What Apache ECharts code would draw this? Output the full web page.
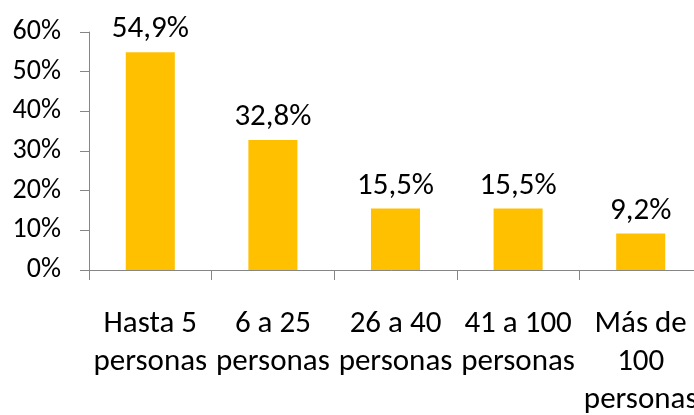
<!DOCTYPE html>
<html>
<head>
<meta charset="utf-8">
<script src="https://cdn.jsdelivr.net/npm/echarts@6/dist/echarts.min.js"></script>
<style>
    html, body { margin: 0; padding: 0; background: #fff; }
    #chart { width: 694px; height: 415px; }
</style>
</head>
<body>
<div id="chart"></div>
<script>
// datos del gráfico
var categorias = ['Hasta 5\npersonas', '6 a 25\npersonas', '26 a 40\npersonas', '41 a 100\npersonas', 'Más de\n100\npersonas'];
var valores = [0.549, 0.328, 0.155, 0.155, 0.092];
var ticksY = [0, 0.6, 0.1]; // min, max, intervalo

var fuente = 'Carlito, Lato, sans-serif';

var myChart = echarts.init(document.getElementById('chart'));
var option = {
    animation: false,
    grid: {
        left: 89,
        top: 32,
        right: -8,
        bottom: 145,
        containLabel: false,
        outerBoundsMode: 'none'
    },
    xAxis: {
        type: 'category',
        data: categorias,
        axisLine: { lineStyle: { color: '#868686', width: 1 } },
        axisTick: { show: true, length: 10, alignWithLabel: false, lineStyle: { color: '#868686' } },
        axisLabel: {
            interval: 0,
            margin: 35,
            color: '#000',
            fontFamily: fuente,
            fontSize: 31,
            lineHeight: 38
        }
    },
    yAxis: {
        type: 'value',
        min: ticksY[0],
        max: ticksY[1],
        interval: ticksY[2],
        splitLine: { show: false },
        axisLine: { show: true, lineStyle: { color: '#868686', width: 1 } },
        axisTick: { show: true, length: 9, lineStyle: { color: '#868686' } },
        axisLabel: {
            margin: 28,
            color: '#000',
            fontFamily: fuente,
            fontSize: 28,
            formatter: function(v) { return Math.round(v * 100) + '%'; }
        }
    },
    series: [{
        type: 'bar',
        data: valores,
        barWidth: '40%',
        itemStyle: { color: '#FFC000' },
        label: {
            show: true,
            position: 'top',
            distance: 7,
            color: '#000',
            fontFamily: fuente,
            fontSize: 31,
            formatter: function(p) { return (p.value * 100).toFixed(1).replace('.', ',') + '%'; }
        }
    }]
};
myChart.setOption(option);

window.addEventListener('resize', function() {
    myChart.resize();
});
</script>
</body>
</html>
